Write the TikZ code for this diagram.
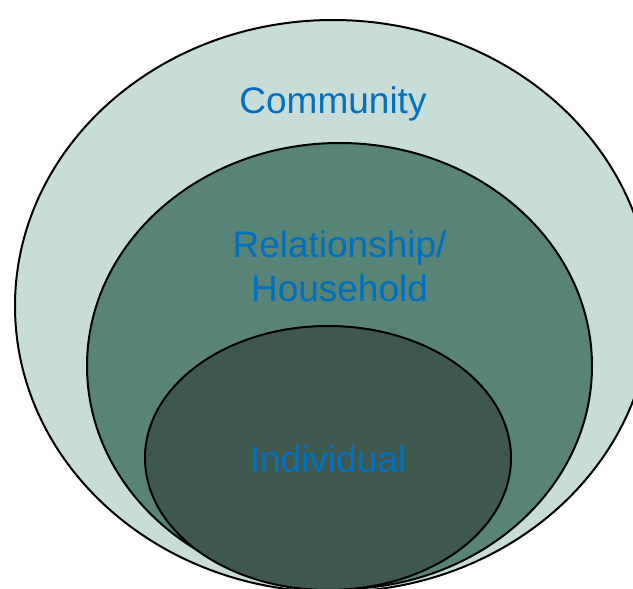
\documentclass[tikz,border=0pt]{standalone}
\usepackage{fontspec}
\setmainfont{Liberation Sans}
\usetikzlibrary{positioning, shapes.geometric}
\definecolor{commfill}{HTML}{C9DDD8}
\definecolor{relfill}{HTML}{588377}
\definecolor{indfill}{HTML}{3E584F}
\definecolor{lbltext}{HTML}{0070C0}

\begin{document}
\begin{tikzpicture}[x=1pt, y=-1pt, node distance=10pt,
  ring/.style={draw, ellipse, line width=2pt, inner sep=0pt, outer sep=0pt},
  lbl/.style={text=lbltext, inner sep=0pt, align=center,
    font=\fontsize{37}{44}\selectfont}]
  \useasboundingbox (0,0) rectangle (633,589);
  \clip (0,0) rectangle (633,589);
  \node[ring, fill=commfill, minimum width=636pt, minimum height=572pt] (comm) at (333,306) {};
  \node[ring, fill=relfill, minimum width=505pt, minimum height=446pt] (rel) at (339.5,366) {};
  \node[ring, fill=indfill, minimum width=366pt, minimum height=264pt] (ind) at (328,458) {};
  \node[lbl, below=66pt of comm.north] (commtxt) {Community};
  \node[lbl, below=87pt of rel.north] (reltxt) {Relationship/\\Household};
  \node[lbl, below=119pt of ind.north] (indtxt) {Individual};
\end{tikzpicture}
\end{document}
